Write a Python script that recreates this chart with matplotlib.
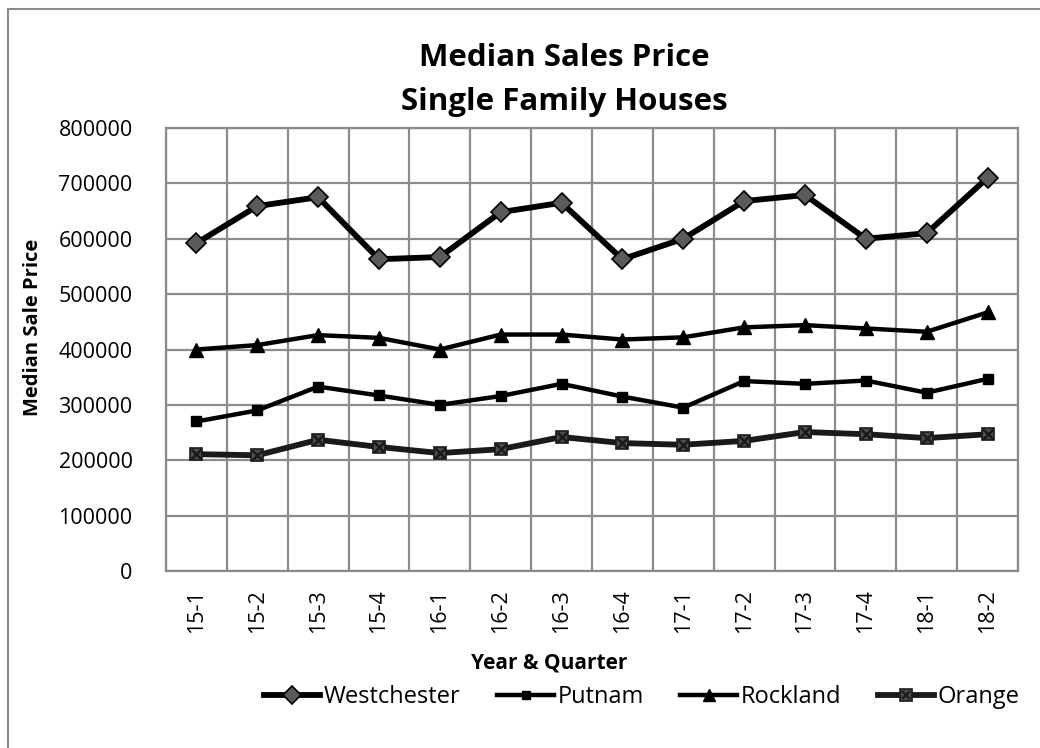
import matplotlib.pyplot as plt
import numpy as np
from matplotlib.legend_handler import HandlerTuple
from matplotlib.lines import Line2D
from matplotlib.patches import Rectangle

plt.rcParams['font.family'] = ['Open Sans', 'DejaVu Sans']

quarters = ['15-1', '15-2', '15-3', '15-4', '16-1', '16-2', '16-3', '16-4',
            '17-1', '17-2', '17-3', '17-4', '18-1', '18-2']
westchester = [592000, 659000, 675000, 563000, 567000, 648000, 665000, 563000,
               600000, 668000, 679000, 600000, 610000, 710000]
putnam = [270000, 290000, 333000, 317000, 300000, 316000, 338000, 315000,
          295000, 343000, 338000, 344000, 322000, 347000]
rockland = [400000, 408000, 426000, 421000, 400000, 427000, 427000, 418000,
            422000, 440000, 444000, 438000, 432000, 467000]
orange = [211000, 209000, 237000, 224000, 213000, 220000, 242000, 231000,
          228000, 235000, 251000, 247000, 240000, 247000]

x = np.arange(len(quarters))
grid_c = '#8c8c8c'

fig = plt.figure(figsize=(10.4, 7.48), dpi=100)
ax = fig.add_axes([0.1596, 0.2366, 0.8192, 0.5923])

# outer chart border (only left/top visible in reference)
fig.patches.append(Rectangle((0.0075, -0.1), 1.1, 1.088, transform=fig.transFigure,
                             fill=False, edgecolor=grid_c, linewidth=1.5))

ax.plot(x, westchester, color='black', lw=4.2, marker='D', ms=10,
        mfc='#5a5a5a', mec='black', mew=1.2, zorder=5)
ax.plot(x, putnam, color='black', lw=3.2, marker='s', ms=6.5,
        mfc='black', mec='black', zorder=5)
ax.plot(x, rockland, color='black', lw=3.2, marker='^', ms=10,
        mfc='black', mec='black', zorder=5)
ax.plot(x, orange, color='#1a1a1a', lw=4.2, marker='s', ms=9,
        mfc='#4d4d4d', mec='#1a1a1a', mew=1.2, zorder=5)
ax.plot(x, orange, ls='none', marker='x', ms=7, mec='#1a1a1a', mew=1.8, zorder=6)

ax.set_xlim(-0.5, len(quarters) - 0.5)
ax.set_ylim(0, 800000)
ax.set_yticks(np.arange(0, 800001, 100000))
ax.set_yticklabels([str(v) for v in range(0, 800001, 100000)], fontsize=15.5)
ax.set_xticks(x)
ax.set_xticklabels(quarters, rotation=90, fontsize=15.5)
ax.set_xticks(np.arange(-0.5, len(quarters)), minor=True)
ax.tick_params(axis='both', which='both', length=0)
ax.tick_params(axis='x', pad=13)
ax.tick_params(axis='y', pad=24)
ax.grid(True, axis='y', which='major', color=grid_c, lw=1.6)
ax.grid(True, axis='x', which='minor', color=grid_c, lw=1.6)
ax.set_axisbelow(True)
for s in ax.spines.values():
    s.set_color(grid_c)
    s.set_linewidth(1.6)

fig.text(0.543, 0.923, 'Median Sales Price', ha='center', va='center',
         fontsize=22.5, fontweight='bold')
fig.text(0.543, 0.863, 'Single Family Houses', ha='center', va='center',
         fontsize=22.5, fontweight='bold')
fig.text(0.032, 0.563, 'Median Sale Price', rotation=90, ha='center', va='center',
         fontsize=14.5, fontweight='bold')
fig.text(0.528, 0.114, 'Year & Quarter', ha='center', va='center',
         fontsize=15, fontweight='bold')

h_w = Line2D([], [], color='black', lw=4.2, marker='D', ms=9, mfc='#5a5a5a',
             mec='black', mew=1.2)
h_p = Line2D([], [], color='black', lw=3.2, marker='s', ms=6, mfc='black')
h_r = Line2D([], [], color='black', lw=3.2, marker='^', ms=9, mfc='black')
h_o1 = Line2D([], [], color='#1a1a1a', lw=4.2, marker='s', ms=8, mfc='#4d4d4d',
              mec='#1a1a1a', mew=1.2)
h_o2 = Line2D([], [], ls='none', marker='x', ms=6, mec='#1a1a1a', mew=1.6)
fig.legend([h_w, h_p, h_r, (h_o1, h_o2)],
           ['Westchester', 'Putnam', 'Rockland', 'Orange'],
           handler_map={tuple: HandlerTuple(ndivide=1)},
           loc='center', bbox_to_anchor=(0.617, 0.068), ncol=4, frameon=False,
           fontsize=17, handlelength=2.4, handletextpad=0.15, columnspacing=1.55)

fig.savefig('out.png', dpi=100)
